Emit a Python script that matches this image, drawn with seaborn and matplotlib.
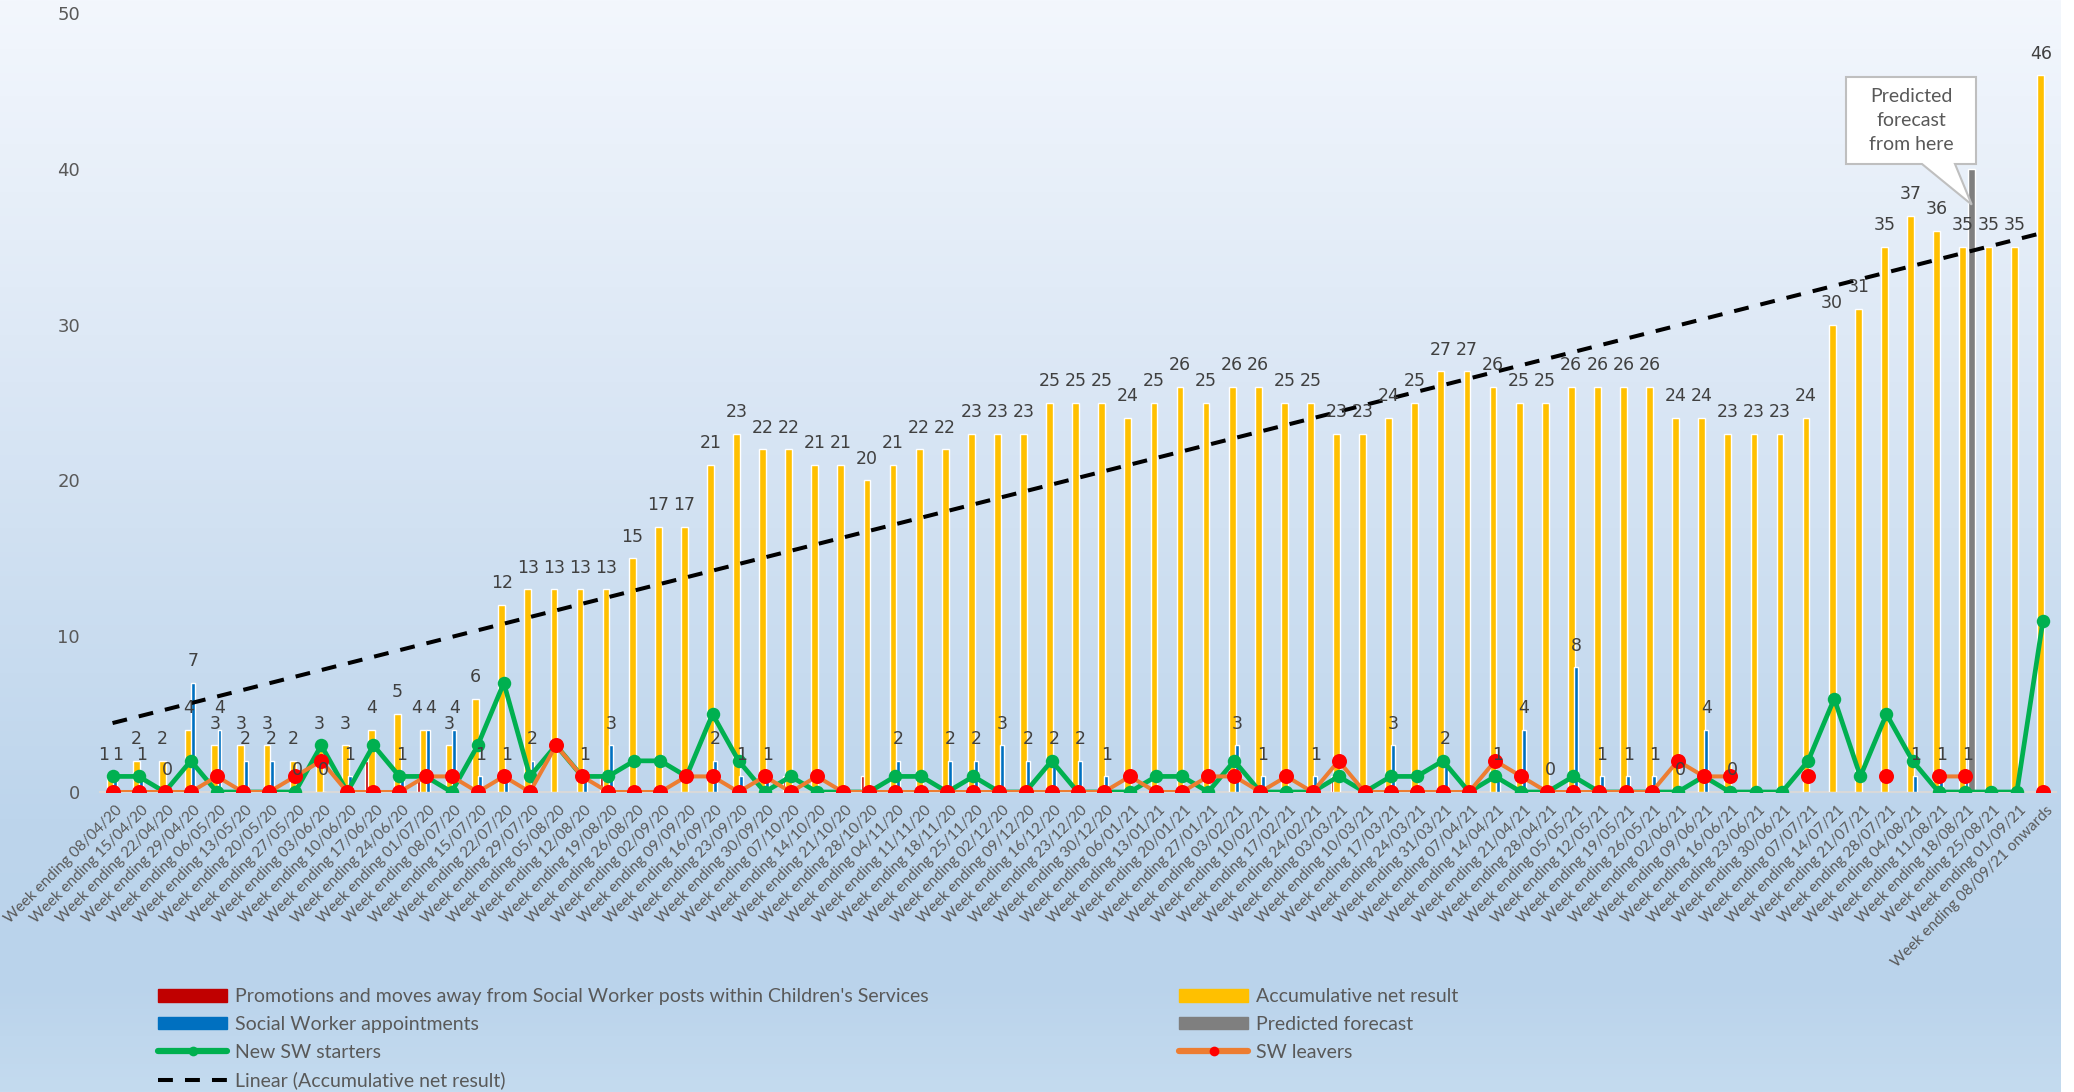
import numpy as np
import matplotlib
matplotlib.use("Agg")
import matplotlib.pyplot as plt
import seaborn as sns
from matplotlib.patches import Patch, Polygon
from matplotlib.lines import Line2D
from matplotlib.transforms import ScaledTranslation

nan = np.nan

# ---- data -----------------------------------------------------------------
weeks = [
    "08/04/20", "15/04/20", "22/04/20", "29/04/20", "06/05/20", "13/05/20", "20/05/20", "27/05/20",
    "03/06/20", "10/06/20", "17/06/20", "24/06/20", "01/07/20", "08/07/20", "15/07/20", "22/07/20",
    "29/07/20", "05/08/20", "12/08/20", "19/08/20", "26/08/20", "02/09/20", "09/09/20", "16/09/20",
    "23/09/20", "30/09/20", "07/10/20", "14/10/20", "21/10/20", "28/10/20", "04/11/20", "11/11/20",
    "18/11/20", "25/11/20", "02/12/20", "09/12/20", "16/12/20", "23/12/20", "30/12/20", "06/01/21",
    "13/01/21", "20/01/21", "27/01/21", "03/02/21", "10/02/21", "17/02/21", "24/02/21", "03/03/21",
    "10/03/21", "17/03/21", "24/03/21", "31/03/21", "07/04/21", "14/04/21", "21/04/21", "28/04/21",
    "05/05/21", "12/05/21", "19/05/21", "26/05/21", "02/06/21", "09/06/21", "16/06/21", "23/06/21",
    "30/06/21", "07/07/21", "14/07/21", "21/07/21", "28/07/21", "04/08/21", "11/08/21", "18/08/21",
    "25/08/21", "01/09/21", "08/09/21 onwards",
]
week_labels = ["Week ending " + w for w in weeks]

accumulative = [1, 2, 2, 4, 3, 3, 3, 2, 3, 3,
                4, 5, 4, 3, 6, 12, 13, 13, 13, 13,
                15, 17, 17, 21, 23, 22, 22, 21, 21, 20,
                21, 22, 22, 23, 23, 23, 25, 25, 25, 24,
                25, 26, 25, 26, 26, 25, 25, 23, 23, 24,
                25, 27, 27, 26, 25, 25, 26, 26, 26, 26,
                24, 24, 23, 23, 23, 24, 30, 31, 35, 37,
                36, 35, 35, 35, 46]

appointments = [1, 1, 0, 7, 4, 2, 2, 0, 0, 1,
                nan, 1, 4, 4, 1, 1, 2, nan, 1, 3,
                nan, nan, nan, 2, 1, 1, nan, nan, nan, nan,
                2, nan, 2, 2, 3, 2, 2, 2, 1, nan,
                nan, nan, nan, 3, 1, nan, 1, nan, nan, 3,
                nan, 2, nan, 1, 4, 0, 8, 1, 1, 1,
                0, 4, 0, nan, nan, nan, nan, nan, nan, 1,
                1, 1, nan, nan, nan]

promotions = [nan] * 75
for _i, _v in [(10, 2), (12, 1), (19, 1), (26, 1), (29, 1), (47, 1)]:
    promotions[_i] = _v

forecast = [nan] * 75
forecast[71] = 40

new_starters = [1, 1, 0, 2, 0, 0, 0, 0, 3, 0,
                3, 1, 1, 0, 3, 7, 1, 3, 1, 1,
                2, 2, 1, 5, 2, 0, 1, 0, 0, 0,
                1, 1, 0, 1, 0, 0, 2, 0, 0, 0,
                1, 1, 0, 2, 0, 0, 0, 1, 0, 1,
                1, 2, 0, 1, 0, 0, 1, 0, 0, 0,
                0, 1, 0, 0, 0, 2, 6, 1, 5, 2,
                0, 0, 0, 0, 11]

sw_leavers = [0, 0, 0, 0, 1, 0, 0, 1, 2, 0,
              0, 0, 1, 1, 0, 1, 0, 3, 1, 0,
              0, 0, 1, 1, 0, 1, 0, 1, 0, 0,
              0, 0, 0, 0, 0, 0, 0, 0, 0, 1,
              0, 0, 1, 1, 0, 1, 0, 2, 0, 0,
              0, 0, 0, 2, 1, 0, 0, 0, 0, 0,
              2, 1, 1, nan, nan, 1, nan, nan, 1, nan,
              1, 1, nan, nan, 0]

# ---- style ----------------------------------------------------------------
sns.set_theme(style="white")
plt.rcParams["font.family"] = ["Lato", "DejaVu Sans"]

GREY_TXT = "#595959"
LABEL_TXT = "#404040"
C_PROMO, C_ACC, C_APPT, C_FORE = "#C00000", "#FFC000", "#0070C0", "#7F7F7F"
C_START, C_LEAVE, C_LEAVE_MK = "#00B050", "#ED7D31", "#FF0000"
NUM_FONT = "DejaVu Sans"

W, H = 2074, 1092
fig = plt.figure(figsize=(W / 100, H / 100), dpi=100, facecolor="white")

# gradient background of the chart area
bg = fig.add_axes([0, 0, 2061 / W, 1], zorder=-10)
stops = np.array([0.0, 0.35, 0.75, 0.9, 1.0])
cols = np.array([[243, 247, 253], [219, 231, 245], [189, 213, 236],
                 [186, 211, 235], [196, 219, 239]]) / 255.0
t = np.linspace(0, 1, 400)
grad = np.stack([np.interp(t, stops, cols[:, k]) for k in range(3)], axis=-1)
bg.imshow(grad[:, None, :], aspect="auto", extent=[0, 1, 1, 0])
bg.set_axis_off()

# plot area
x0, x1 = 99.5, 2056.0
y0, y1 = 792.0, 13.0
ax = fig.add_axes([x0 / W, 1 - y0 / H, (x1 - x0) / W, (y0 - y1) / H])
ax.patch.set_alpha(0)

idx = np.arange(len(weeks))
acc = np.array(accumulative, float)
appt = np.array(appointments, float)
promo = np.array(promotions, float)
fore = np.array(forecast, float)

OFF_PROMO, OFF_ACC, OFF_APPT, OFF_FORE = -0.245, -0.08, 0.10, 0.27
ax.bar(idx + OFF_PROMO, promo, width=0.13, color=C_PROMO, zorder=2)
ax.bar(idx + OFF_ACC, acc, width=0.26, color=C_ACC, zorder=2)
ax.bar(idx + OFF_APPT, appt, width=0.15, color=C_APPT, zorder=2)
ax.bar(idx + OFF_FORE, fore, width=0.27, color=C_FORE, zorder=2)

# linear trend of the accumulative result
sns.regplot(x=idx, y=acc, ax=ax, scatter=False, ci=None, truncate=True, color="black",
            line_kws=dict(lw=2.9, dashes=(3.7, 3.0), zorder=3, dash_capstyle="butt"))

sns.lineplot(x=idx, y=np.array(new_starters, float), ax=ax, color=C_START, lw=3.4,
             marker="o", markersize=9.7, markeredgecolor=C_START, markeredgewidth=0,
             zorder=4)
ax.plot(idx, np.array(sw_leavers, float), color=C_LEAVE, lw=2.9, marker="o",
        markersize=10.8, markerfacecolor=C_LEAVE_MK, markeredgecolor=C_LEAVE_MK,
        markeredgewidth=0, zorder=5)

# value labels (pushed apart sideways when both labels sit at the same height)
for i in idx:
    same = (not np.isnan(appt[i])) and appt[i] == acc[i]
    dx_acc, dx_appt = (-5, 1.5) if same else (0, 0)
    ax.annotate(f"{int(acc[i])}", xy=(i + OFF_ACC, acc[i]), xytext=(dx_acc, 12),
                textcoords="offset points", ha="center", va="baseline",
                fontsize=12.5, color=LABEL_TXT, family=NUM_FONT, zorder=6)
    if not np.isnan(appt[i]):
        ax.annotate(f"{int(appt[i])}", xy=(i + OFF_APPT, appt[i]), xytext=(dx_appt, 12),
                    textcoords="offset points", ha="center", va="baseline",
                    fontsize=12.5, color=LABEL_TXT, family=NUM_FONT, zorder=6)

# axes
ax.set_xlim(-0.5, len(weeks) - 0.5)
ax.set_ylim(0, 50)
ax.set_yticks(range(0, 51, 10))
ax.set_yticklabels([str(v) for v in range(0, 51, 10)], fontsize=13, color=GREY_TXT,
                   family=NUM_FONT)
ax.tick_params(axis="y", length=0, pad=14)
ax.set_xticks(idx)
ax.set_xticklabels(week_labels, rotation=45, ha="right", rotation_mode="anchor",
                   fontsize=11, color=GREY_TXT)
ax.tick_params(axis="x", which="major", length=0, pad=8)
ax.set_xticks(np.arange(-0.5, len(weeks), 1.0), minor=True)
ax.tick_params(axis="x", which="minor", length=4, width=1.2, color="#D9D9D9",
               direction="out")
for lbl in ax.get_xticklabels():
    lbl.set_transform(lbl.get_transform() + ScaledTranslation(0.025, 0, fig.dpi_scale_trans))
for s in ["left", "right", "top"]:
    ax.spines[s].set_visible(False)
ax.spines["bottom"].set_color("#D9D9D9")
ax.spines["bottom"].set_linewidth(1.5)
ax.spines["bottom"].set_zorder(1)
ax.grid(False)
ax.set_xlabel("")
ax.set_ylabel("")

# callout pointing at the forecast bar
fi = int(np.nanargmax(fore))
tip = ax.transData.transform((fi + OFF_FORE, fore[fi] - 2.3))
bx0, bx1, by_top, by_bot = 1846, 1976, H - 77, H - 164
poly = Polygon([(bx0, by_top), (bx1, by_top), (bx1, by_bot), (1955, by_bot),
                (tip[0], tip[1]), (1922, by_bot), (bx0, by_bot)],
               closed=True, transform=None, facecolor="white", edgecolor="#BFBFBF",
               lw=1.5, zorder=20)
fig.patches.append(poly)
fig.text((bx0 + bx1) / 2 / W, (by_top + by_bot) / 2 / H,
         "Predicted\nforecast\nfrom here", ha="center", va="center",
         fontsize=14, color=GREY_TXT, linespacing=1.5, zorder=21)

# legends
line_start = Line2D([], [], color=C_START, lw=4.5, marker="o", ms=7,
                    markerfacecolor=C_START, markeredgewidth=0)
line_leave = Line2D([], [], color=C_LEAVE, lw=4.5, marker="o", ms=7,
                    markerfacecolor=C_LEAVE_MK, markeredgewidth=0)
line_trend = Line2D([], [], color="black", lw=2.9, dashes=(3.7, 3.0))
leg_kw = dict(frameon=False, fontsize=14, labelcolor=GREY_TXT, borderpad=0,
              handlelength=3.55, handleheight=0.63, handletextpad=0.41,
              labelspacing=0.56, loc="upper left", borderaxespad=0)
fig.legend([Patch(color=C_PROMO), Patch(color=C_APPT), line_start, line_trend],
           ["Promotions and moves away from Social Worker posts within Children's Services",
            "Social Worker appointments", "New SW starters",
            "Linear (Accumulative net result)"],
           bbox_to_anchor=(158 / W, 1 - 988 / H), **leg_kw)
fig.legend([Patch(color=C_ACC), Patch(color=C_FORE), line_leave],
           ["Accumulative net result", "Predicted forecast", "SW leavers"],
           bbox_to_anchor=(1179 / W, 1 - 988 / H), **leg_kw)

fig.savefig("out.png", dpi=100, facecolor="white")
